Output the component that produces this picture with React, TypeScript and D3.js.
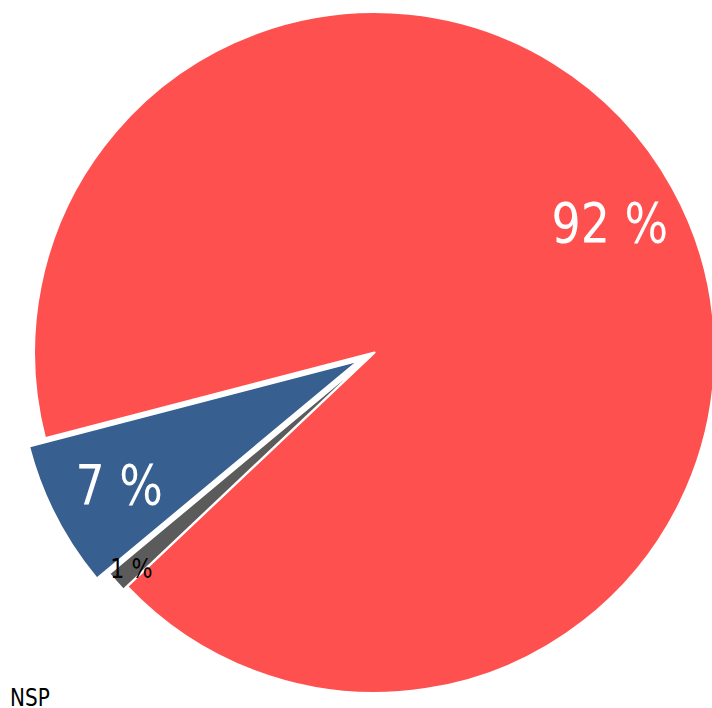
import React from "react";
import * as d3 from "d3";

const categories = ["Oui", "Non", "NSP"];
const values = [92, 7, 1];
const labels = ["92 %", "7 %", "1 %"];
const colors = ["#ff5050", "#376090", "#5b5b5b"];
const labelColors = ["#ffffff", "#ffffff", "#000000"];
const explode = [0, 18, 5];
const labelRadius = [0.79, 0.79, 0.94];
const labelSizes = [56, 56, 27];
const footnote = "NSP";

const W = 712;
const H = 708;
const cx = 374.5;
const cy = 352.5;
const R = 340.5;
const startDeg = 226.6;

export default function App() {
  const start = (startDeg * Math.PI) / 180;
  const pie = d3
    .pie<number>()
    .sort(null)
    .startAngle(start)
    .endAngle(start - 2 * Math.PI);
  const arcs = pie(values);
  const arc = d3.arc<d3.PieArcDatum<number>>().innerRadius(0).outerRadius(R);

  return (
    <svg
      width={W}
      height={H}
      style={{ position: "absolute", left: 0, top: 0 }}
      fontFamily="'DejaVu Sans', sans-serif"
    >
      <g transform={`translate(${cx},${cy})`}>
        {arcs.map((a, i) => {
          const mid = (a.startAngle + a.endAngle) / 2;
          const dx = Math.sin(mid) * explode[i];
          const dy = -Math.cos(mid) * explode[i];
          const lx = Math.sin(mid) * R * labelRadius[i] + dx;
          const ly = -Math.cos(mid) * R * labelRadius[i] + dy;
          return (
            <g key={categories[i]}>
              <path
                d={arc(a) || ""}
                transform={`translate(${dx},${dy})`}
                fill={colors[i]}
                stroke="#ffffff"
                strokeWidth={2.2}
                strokeLinejoin="round"
              />
              <text
                transform={`translate(${lx},${ly}) scale(0.82,1)`}
                textAnchor="middle"
                dy="0.36em"
                fontSize={labelSizes[i]}
                fill={labelColors[i]}
              >
                {labels[i]}
              </text>
            </g>
          );
        })}
      </g>
      <text
        transform={`translate(10,706) scale(0.8,1)`}
        fontSize={25}
        fill="#000000"
      >
        {footnote}
      </text>
    </svg>
  );
}
